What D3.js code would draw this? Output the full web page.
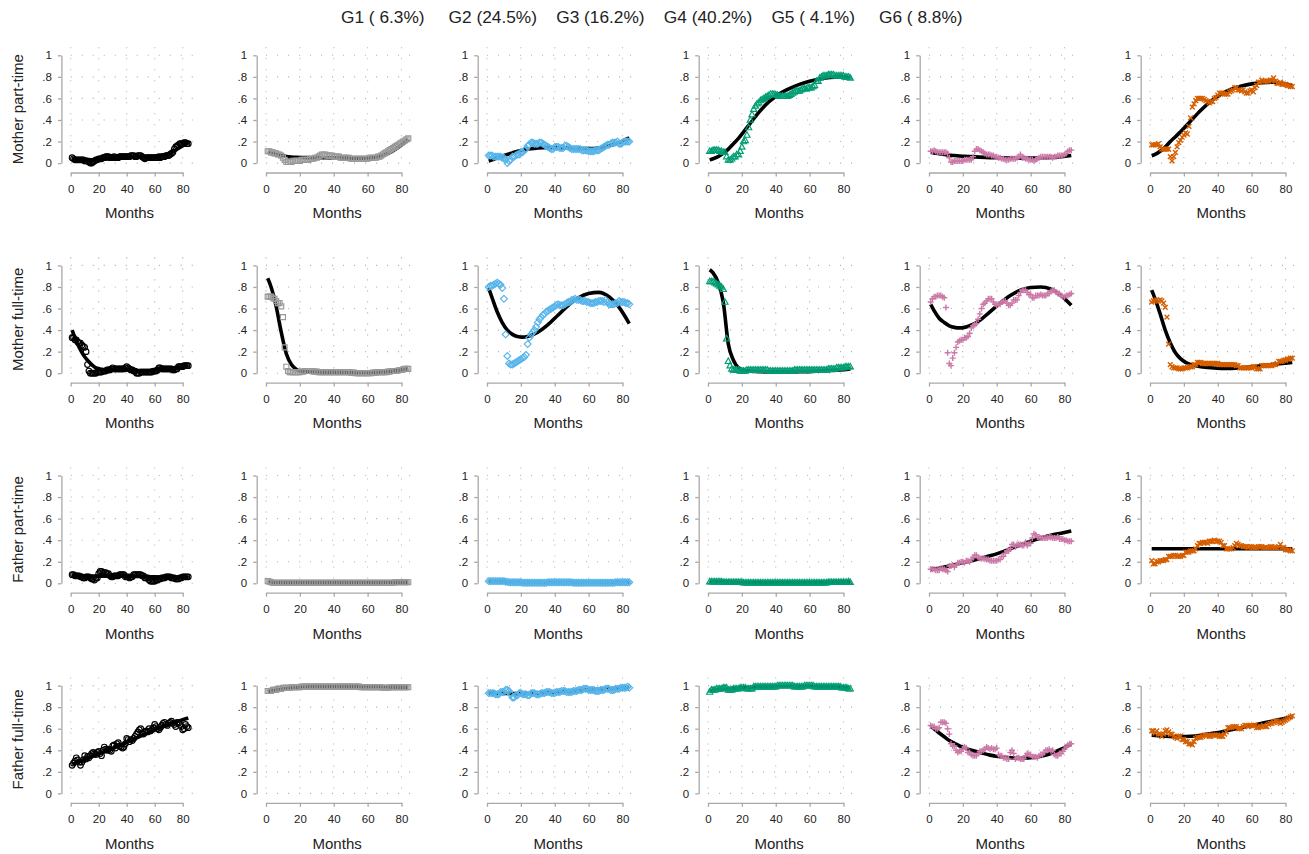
<!DOCTYPE html>
<html>
<head>
<meta charset="utf-8">
<script src="https://cdn.jsdelivr.net/npm/d3@7"></script>
<style>
  body { margin: 0; background: #fff; }
  svg { font-family: "Liberation Sans", Arial, sans-serif; }
  .axis path, .axis line { stroke: #a8a8a8; stroke-width: 1.3; }
  .axis text { fill: #222; font-size: 11.5px; }
  .grid line { stroke: #b4b4b4; stroke-width: 1.1; stroke-dasharray: 1.1 9.9; }
  .title text { white-space: pre; }
</style>
</head>
<body>
<svg id="chart" width="1309" height="854"></svg>
<script>
// groups and rows
const groupNames = ["G1", "G2", "G3", "G4", "G5", "G6"];
const groupShares = [6.3, 24.5, 16.2, 40.2, 4.1, 8.8];
const groupColors = ["#000000", "#999999", "#56B4E9", "#009E73", "#CC79A7", "#D55E00"];
const groupMarkers = ["circle", "square", "diamond", "triangle", "plus", "cross"];
const rowLabels = ["Mother part-time", "Mother full-time", "Father part-time", "Father full-time"];
const xTicks = [0, 20, 40, 60, 80];
const yTicks = [0, 0.2, 0.4, 0.6, 0.8, 1];
const months = d3.range(1, 85);
const fitMonths = [1, 3, 6, 9, 12, 15, 18, 21, 24, 30, 36, 42, 48, 54, 60, 66, 72, 78, 84];

// observed shares, months 1..84, one array per group
const obsMotherPart = [
  [.05,.04,.03,.03,.03,.03,.03,.03,.03,.02, .02,.02,.01,.00,.00,.01,.02,.03,.03,.04,
   .04,.04,.05,.05,.06,.06,.06,.05,.05,.05, .06,.05,.05,.05,.06,.06,.06,.06,.06,.06,
   .06,.06,.07,.07,.07,.06,.06,.07,.07,.07, .06,.05,.04,.05,.05,.05,.05,.05,.05,.05,
   .05,.05,.06,.05,.06,.06,.06,.07,.07,.07, .08,.09,.10,.13,.15,.16,.17,.18,.18,.18,
   .19,.19,.18,.18],
  [.11,.11,.10,.10,.09,.09,.08,.08,.07,.05, .03,.01,.01,.01,.01,.02,.02,.02,.02,.02,
   .03,.03,.03,.03,.03,.04,.04,.04,.05,.05, .06,.07,.08,.08,.08,.07,.07,.07,.07,.06,
   .06,.06,.06,.05,.05,.05,.05,.05,.05,.04, .04,.04,.04,.04,.04,.04,.04,.04,.04,.04,
   .05,.05,.05,.05,.05,.06,.06,.07,.08,.09, .10,.11,.12,.13,.14,.15,.16,.17,.18,.19,
   .20,.21,.22,.23],
  [.07,.07,.07,.06,.06,.06,.06,.06,.05,.05, .03,.00,.02,.03,.06,.06,.07,.08,.08,.10,
   .10,.12,.13,.16,.17,.19,.19,.18,.18,.18, .19,.19,.18,.17,.16,.15,.14,.13,.13,.15,
   .15,.15,.14,.14,.14,.16,.16,.15,.14,.13, .13,.13,.13,.13,.13,.12,.12,.12,.12,.11,
   .11,.11,.11,.12,.12,.12,.13,.14,.15,.16, .17,.17,.18,.19,.19,.19,.20,.18,.18,.19,
   .20,.20,.20,.20],
  [.11,.11,.12,.12,.12,.12,.11,.11,.10,.10, .06,.03,.03,.04,.06,.06,.08,.08,.11,.15,
   .20,.21,.26,.33,.40,.45,.50,.53,.55,.56, .58,.59,.60,.61,.62,.63,.64,.64,.64,.635,
   .63,.62,.62,.62,.62,.62,.62,.63,.64,.65, .66,.67,.67,.67,.68,.69,.69,.69,.70,.70,
   .70,.71,.72,.76,.76,.79,.80,.81,.81,.81, .82,.82,.82,.82,.81,.81,.81,.81,.81,.81,
   .80,.80,.80,.79],
  [.11,.11,.12,.11,.10,.10,.10,.10,.10,.10, .09,.05,.01,.01,.02,.02,.02,.02,.02,.02,
   .03,.03,.03,.03,.03,.06,.11,.13,.13,.12, .11,.10,.09,.08,.08,.08,.07,.07,.06,.06,
   .05,.05,.04,.04,.03,.03,.03,.04,.04,.04, .04,.05,.06,.08,.05,.05,.04,.04,.03,.03,
   .03,.02,.03,.04,.05,.06,.06,.06,.06,.06, .06,.06,.05,.06,.06,.07,.07,.07,.07,.08,
   .09,.11,.12,.12],
  [.17,.17,.17,.17,.18,.15,.13,.13,.13,.13, .13,.06,.02,.06,.10,.15,.19,.21,.24,.26,
   .28,.27,.34,.42,.52,.55,.58,.60,.60,.60, .60,.59,.58,.57,.56,.57,.57,.60,.61,.63,
   .65,.65,.65,.64,.64,.64,.66,.67,.68,.70, .70,.68,.68,.67,.68,.66,.65,.65,.67,.68,
   .66,.70,.72,.75,.75,.77,.76,.76,.76,.76, .77,.77,.79,.76,.74,.74,.75,.73,.73,.73,
   .72,.72,.71,.71]
];

const obsMotherFull = [
  [.33,.33,.31,.31,.29,.28,.28,.26,.25,.24, .20,.08,.02,.00,.00,.00,.00,.00,.01,.01,
   .01,.01,.02,.02,.02,.03,.03,.03,.04,.05, .04,.04,.04,.04,.04,.04,.04,.04,.05,.06,
   .05,.04,.03,.03,.02,.02,.00,.00,.00,.01, .01,.01,.01,.01,.01,.01,.01,.01,.02,.02,
   .02,.03,.05,.05,.04,.04,.04,.04,.04,.04, .04,.04,.03,.03,.04,.04,.06,.06,.06,.06,
   .07,.07,.07,.07],
  [.71,.71,.71,.70,.69,.67,.65,.65,.62,.52, .24,.06,.02,.01,.01,.01,.01,.01,.01,.01,
   .015,.015,.02,.02,.02,.02,.02,.015,.015,.015, .01,.01,.01,.01,.01,.01,.01,.01,.01,.01,
   .01,.01,.01,.01,.01,.01,.01,.01,.01,.005, .005,.005,.00,.00,.00,.00,.00,.00,.00,.00,
   .00,.00,.005,.005,.005,.01,.01,.01,.01,.01, .01,.015,.015,.02,.02,.02,.02,.025,.03,.03,
   .035,.04,.04,.04],
  [.80,.81,.81,.82,.83,.84,.83,.82,.79,.69, .36,.16,.09,.08,.08,.09,.10,.11,.12,.13,
   .14,.15,.17,.27,.33,.36,.38,.40,.43,.47, .50,.52,.54,.55,.57,.58,.59,.60,.61,.62,
   .63,.64,.63,.63,.63,.64,.65,.66,.66,.68, .68,.69,.68,.68,.68,.67,.67,.67,.66,.66,
   .65,.65,.65,.66,.66,.67,.67,.67,.66,.68, .66,.64,.64,.64,.64,.65,.65,.67,.66,.66,
   .66,.65,.65,.64],
  [.85,.85,.85,.84,.83,.82,.81,.80,.78,.66, .32,.11,.07,.04,.03,.03,.03,.03,.02,.02,
   .02,.02,.03,.03,.03,.03,.03,.03,.03,.03, .03,.03,.03,.03,.03,.02,.02,.02,.02,.02,
   .02,.02,.02,.02,.02,.02,.02,.02,.02,.02, .03,.03,.03,.03,.03,.03,.03,.03,.03,.03,
   .03,.03,.03,.03,.03,.03,.03,.03,.03,.03, .04,.04,.04,.04,.04,.05,.05,.05,.05,.05,
   .06,.06,.06,.06],
  [.66,.69,.71,.71,.72,.72,.72,.71,.70,.61, .19,.09,.07,.14,.19,.24,.29,.30,.31,.31,
   .33,.33,.34,.37,.42,.44,.45,.46,.50,.55, .60,.64,.65,.67,.69,.69,.69,.66,.64,.63,
   .64,.64,.66,.67,.67,.65,.63,.63,.65,.68, .68,.68,.72,.75,.77,.77,.77,.75,.73,.73,
   .70,.70,.72,.72,.72,.73,.72,.72,.72,.74, .74,.76,.77,.77,.75,.74,.74,.72,.71,.71,
   .72,.72,.73,.74],
  [.66,.67,.67,.68,.67,.68,.67,.65,.61,.52, .27,.08,.06,.05,.05,.05,.04,.04,.04,.05,
   .05,.05,.06,.06,.06,.08,.08,.10,.10,.10, .09,.09,.09,.09,.09,.09,.09,.09,.09,.09,
   .08,.08,.08,.08,.08,.08,.08,.08,.08,.08, .07,.07,.05,.05,.05,.05,.05,.05,.05,.05,
   .06,.06,.04,.04,.04,.07,.07,.07,.07,.07, .07,.07,.08,.08,.09,.11,.11,.11,.12,.12,
   .13,.13,.14,.14]
];

const obsFatherPart = [
  [.08,.08,.07,.07,.07,.07,.06,.06,.05,.05, .06,.06,.06,.05,.04,.04,.03,.05,.05,.09,
   .11,.11,.10,.10,.10,.09,.09,.07,.06,.06, .07,.07,.07,.07,.08,.08,.08,.08,.06,.06,
   .06,.05,.06,.06,.08,.08,.08,.08,.08,.08, .07,.07,.05,.05,.05,.03,.02,.02,.02,.02,
   .03,.03,.04,.04,.05,.05,.05,.06,.06,.06, .06,.05,.05,.05,.04,.04,.04,.05,.05,.06,
   .06,.06,.06,.06],
  [.02,.015,.01,.005,.005,.005,.005,.005,.005,.005, .005,.005,.005,.005,.005,.005,.005,.005,.005,.005,
   .005,.005,.005,.005,.005,.005,.005,.005,.005,.005, .005,.005,.005,.005,.005,.005,.005,.005,.005,.005,
   .005,.005,.005,.005,.005,.005,.005,.005,.005,.005, .005,.005,.005,.005,.005,.005,.005,.005,.005,.005,
   .005,.005,.005,.005,.005,.005,.005,.005,.005,.005, .005,.005,.005,.005,.005,.01,.01,.01,.01,.01,
   .01,.01,.01,.01],
  [.02,.02,.02,.02,.02,.02,.02,.02,.02,.02, .015,.015,.01,.01,.01,.01,.01,.01,.01,.01,
   .005,.005,.005,.005,.005,.005,.005,.005,.005,.005, .005,.005,.005,.005,.005,.01,.01,.01,.01,.01,
   .01,.01,.01,.01,.01,.01,.01,.01,.01,.01, .005,.005,.005,.005,.005,.005,.005,.005,.005,.005,
   .005,.005,.005,.005,.005,.005,.005,.005,.005,.005, .005,.005,.005,.005,.005,.01,.01,.01,.01,.01,
   .01,.01,.01,.01],
  [.015,.015,.015,.015,.015,.015,.015,.015,.01,.01, .01,.01,.01,.01,.01,.01,.01,.01,.01,.01,
   .005,.005,.005,.005,.005,.005,.005,.005,.005,.005, .005,.005,.005,.005,.005,.005,.005,.005,.005,.005,
   .005,.005,.005,.005,.005,.005,.005,.005,.005,.005, .005,.005,.005,.005,.005,.005,.005,.005,.005,.005,
   .005,.005,.005,.005,.005,.005,.005,.005,.005,.005, .01,.01,.01,.01,.01,.01,.01,.01,.01,.01,
   .01,.01,.015,.01],
  [.13,.13,.13,.12,.12,.12,.14,.13,.13,.12, .11,.16,.16,.17,.15,.17,.19,.19,.20,.20,
   .19,.21,.21,.20,.22,.24,.26,.26,.24,.23, .23,.23,.23,.22,.22,.21,.21,.21,.21,.21,
   .22,.22,.25,.25,.28,.30,.30,.32,.36,.36, .34,.36,.36,.36,.35,.35,.38,.35,.37,.37,
   .42,.46,.45,.43,.43,.42,.42,.42,.42,.42, .43,.43,.42,.42,.42,.43,.41,.41,.41,.40,
   .40,.39,.39,.39],
  [.21,.18,.18,.20,.20,.21,.21,.21,.22,.22, .25,.25,.25,.26,.26,.25,.25,.25,.26,.26,
   .29,.29,.29,.30,.30,.30,.32,.35,.37,.37, .38,.38,.38,.37,.39,.39,.39,.40,.39,.39,
   .39,.38,.35,.35,.32,.32,.32,.32,.33,.35, .37,.36,.35,.35,.34,.34,.34,.33,.34,.34,
   .33,.33,.33,.34,.34,.34,.33,.33,.33,.33, .34,.34,.33,.33,.33,.34,.36,.33,.33,.31,
   .31,.31,.30,.30]
];

const obsFatherFull = [
  [.26,.28,.30,.33,.31,.29,.26,.29,.31,.35, .32,.34,.33,.35,.37,.38,.37,.36,.38,.39,
   .37,.35,.40,.43,.41,.40,.41,.40,.39,.44, .45,.42,.46,.47,.44,.43,.42,.43,.46,.51,
   .50,.48,.50,.49,.51,.53,.55,.57,.59,.60, .56,.55,.57,.58,.57,.60,.58,.59,.61,.64,
   .62,.60,.59,.61,.63,.65,.66,.64,.63,.65, .66,.67,.65,.64,.62,.66,.65,.64,.62,.59,
   .60,.64,.62,.61],
  [.95,.95,.95,.96,.96,.96,.97,.97,.97,.98, .98,.98,.98,.98,.985,.985,.985,.985,.985,.985,
   .99,.99,.99,.99,.99,.99,.99,.99,.99,.99, .99,.99,.99,.99,.99,.99,.99,.99,.99,.99,
   .99,.99,.99,.99,.99,.99,.99,.99,.99,.99, .99,.99,.99,.99,.99,.985,.985,.985,.985,.985,
   .985,.985,.985,.985,.985,.985,.985,.985,.98,.98, .98,.98,.985,.985,.985,.985,.985,.985,.985,.985,
   .985,.985,.985,.985],
  [.93,.93,.93,.93,.92,.92,.92,.94,.94,.94, .96,.96,.95,.92,.89,.89,.91,.91,.93,.93,
   .92,.92,.92,.91,.91,.93,.93,.93,.92,.92, .92,.93,.93,.93,.94,.94,.94,.93,.93,.93,
   .94,.94,.94,.95,.95,.95,.94,.94,.94,.94, .95,.95,.95,.96,.96,.96,.97,.97,.97,.96,
   .96,.96,.96,.95,.95,.95,.96,.96,.96,.97, .97,.97,.96,.96,.96,.97,.97,.97,.98,.98,
   .98,.98,.99,.98],
  [.94,.96,.96,.96,.97,.97,.97,.97,.98,.98, .98,.96,.96,.96,.97,.97,.97,.97,.98,.98,
   .98,.98,.97,.97,.97,.97,.99,.99,.99,.99, .99,.99,.99,.99,.99,.99,.99,.99,.99,.99,
   1,1,1,1,1,1,1,1,1,1, .99,.99,.99,.99,.99,.99,1,1,1,1,
   1,1,.99,.99,.99,.99,.99,.99,.99,.99, .99,.99,.99,.99,.99,.99,.99,.99,.98,.98,
   .98,.98,.97,.97],
  [.63,.62,.62,.60,.60,.61,.66,.66,.66,.65, .60,.55,.46,.44,.44,.40,.38,.39,.39,.41,
   .43,.42,.38,.38,.36,.35,.35,.35,.37,.39, .39,.40,.41,.43,.42,.41,.42,.41,.41,.42,
   .36,.35,.35,.33,.33,.32,.32,.38,.40,.37, .32,.33,.33,.32,.32,.32,.35,.37,.36,.36,
   .34,.34,.34,.33,.35,.36,.36,.38,.40,.40, .41,.39,.40,.36,.35,.35,.37,.37,.39,.41,
   .43,.45,.46,.46],
  [.58,.58,.56,.58,.55,.55,.53,.55,.58,.59, .57,.55,.55,.53,.52,.51,.53,.53,.50,.50,
   .48,.48,.46,.46,.45,.48,.51,.52,.52,.52, .53,.54,.54,.54,.53,.53,.54,.54,.54,.54,
   .53,.53,.53,.55,.57,.61,.61,.61,.62,.62, .62,.60,.60,.60,.62,.63,.63,.62,.63,.63,
   .63,.63,.61,.61,.62,.62,.63,.62,.62,.64, .65,.65,.66,.67,.67,.66,.65,.66,.67,.68,
   .69,.70,.71,.72]
];

// fitted trajectories, read at fitMonths
const fitMotherPart = [
  [.045,.04,.035,.032,.03,.03,.031,.033,.036,.042,.048,.052,.055,.056,.06,.072,.10,.145,.19],
  [.10,.09,.08,.07,.062,.057,.054,.052,.051,.05,.05,.048,.046,.045,.048,.06,.09,.145,.22],
  [.02,.03,.05,.065,.08,.095,.11,.12,.13,.14,.145,.143,.14,.135,.135,.14,.16,.19,.235],
  [.03,.04,.06,.09,.13,.18,.23,.29,.35,.47,.57,.64,.69,.73,.76,.78,.795,.80,.79],
  [.10,.095,.088,.08,.075,.07,.066,.063,.06,.055,.051,.049,.047,.046,.046,.049,.053,.06,.07],
  [.068,.08,.11,.15,.20,.245,.29,.34,.39,.49,.575,.64,.685,.715,.735,.745,.75,.74,.72]
];
const fitMotherFull = [
  [.40,.33,.24,.17,.12,.08,.05,.04,.03,.03,.03,.03,.025,.025,.03,.035,.045,.055,.07],
  [.88,.80,.62,.38,.18,.08,.035,.02,.015,.01,.01,.01,.005,.005,.005,.01,.015,.025,.04],
  [.79,.70,.57,.47,.40,.36,.34,.335,.34,.38,.45,.54,.63,.70,.74,.75,.71,.61,.46],
  [.96,.93,.84,.66,.27,.12,.05,.03,.02,.015,.01,.01,.01,.015,.015,.02,.025,.03,.04],
  [.64,.58,.51,.47,.44,.425,.42,.425,.44,.49,.57,.65,.72,.77,.795,.80,.78,.72,.63],
  [.77,.69,.55,.40,.28,.19,.135,.10,.08,.06,.05,.045,.045,.05,.06,.07,.08,.09,.10]
];
const fitFatherPart = [
  [.075,.074,.072,.07,.069,.068,.067,.067,.067,.066,.066,.065,.064,.062,.06,.058,.056,.055,.055],
  [.012,.011,.009,.007,.006,.005,.005,.005,.005,.005,.005,.005,.005,.005,.005,.006,.007,.009,.011],
  [.018,.017,.016,.014,.012,.011,.01,.009,.008,.007,.007,.007,.007,.007,.007,.007,.008,.009,.01],
  [.015,.014,.013,.012,.011,.01,.01,.009,.009,.008,.008,.008,.008,.008,.008,.009,.01,.011,.012],
  [.13,.135,.14,.15,.16,.17,.185,.195,.205,.23,.255,.285,.32,.355,.39,.42,.445,.465,.485],
  [.32,.32,.32,.32,.32,.32,.32,.32,.32,.32,.32,.32,.32,.32,.32,.32,.32,.32,.32]
];
const fitFatherFull = [
  [.27,.28,.295,.31,.325,.34,.355,.37,.385,.415,.45,.485,.52,.555,.59,.62,.65,.675,.70],
  [.945,.95,.958,.966,.973,.978,.982,.985,.987,.99,.99,.99,.99,.99,.99,.99,.988,.986,.985],
  [.93,.93,.93,.928,.927,.926,.926,.926,.927,.93,.935,.94,.947,.953,.96,.965,.97,.976,.983],
  [.95,.955,.96,.965,.97,.974,.977,.98,.982,.986,.989,.991,.992,.992,.991,.99,.988,.985,.98],
  [.62,.60,.56,.525,.49,.465,.44,.42,.405,.38,.355,.34,.33,.325,.33,.345,.37,.41,.46],
  [.54,.537,.533,.53,.528,.527,.527,.528,.53,.54,.555,.57,.59,.61,.63,.65,.67,.69,.71]
];

const rowsObs = [obsMotherPart, obsMotherFull, obsFatherPart, obsFatherFull];
const rowsFit = [fitMotherPart, fitMotherFull, fitFatherPart, fitFatherFull];

// marker shapes (hollow, Stata-like)
const markerTypes = {
  circle: { draw(p) { p.moveTo(2.8, 0); p.arc(0, 0, 2.8, 0, 2 * Math.PI); } },
  square: { draw(p) { p.rect(-2.5, -2.5, 5, 5); } },
  diamond: { draw(p) { p.moveTo(0, -3.4); p.lineTo(3.4, 0); p.lineTo(0, 3.4); p.lineTo(-3.4, 0); p.closePath(); } },
  triangle: { draw(p) { p.moveTo(0, -3.3); p.lineTo(3.1, 2.2); p.lineTo(-3.1, 2.2); p.closePath(); } },
  plus: { draw(p) { p.moveTo(-3, 0); p.lineTo(3, 0); p.moveTo(0, -3); p.lineTo(0, 3); } },
  cross: { draw(p) { p.moveTo(-2.4, -2.4); p.lineTo(2.4, 2.4); p.moveTo(-2.4, 2.4); p.lineTo(2.4, -2.4); } }
};

const svg = d3.select("#chart");
const tickFmt = d => d === 0 ? "0" : d === 1 ? "1" : d3.format(".1f")(d).replace(/^0/, "");

// title
const titleX = d3.scalePoint().domain(groupNames).range([341, 879]);
svg.append("g").attr("class", "title")
  .selectAll("text")
  .data(groupNames)
  .join("text")
  .attr("x", d => titleX(d))
  .attr("y", 23)
  .attr("font-size", 17.3)
  .attr("fill", "#222")
  .text((d, i) => `${d} (${d3.format("4.1f")(groupShares[i])}%)`);

rowLabels.forEach((label, r) => {
  const yTop = 55.3 + r * 210.1;
  const yBottom = yTop + 107.8;

  svg.append("text")
    .attr("transform", `translate(22.6,${(yTop + yBottom) / 2}) rotate(-90)`)
    .attr("text-anchor", "middle")
    .attr("font-size", 15)
    .attr("fill", "#222")
    .text(label);

  groupNames.forEach((g, c) => {
    const x0 = c === 0 ? 70.7 : 266 + (c - 1) * 221;
    const w = c === 0 ? 112 : 135.5;
    const x = d3.scaleLinear().domain([0, 80]).range([x0, x0 + w]);
    const y = d3.scaleLinear().domain([0, 1]).range([yBottom, yTop]);
    const panel = svg.append("g");

    // dotted grid
    const grid = panel.append("g").attr("class", "grid");
    grid.selectAll(".gy").data(yTicks).join("line").attr("class", "gy")
      .attr("x1", x(0)).attr("x2", x(88))
      .attr("y1", d => y(d)).attr("y2", d => y(d));
    grid.selectAll(".gx").data(xTicks).join("line").attr("class", "gx")
      .attr("x1", d => x(d)).attr("x2", d => x(d))
      .attr("y1", y(1.075)).attr("y2", y(0));

    // axes, offset from the plot region
    panel.append("g").attr("class", "axis")
      .attr("transform", `translate(${x0 - 9.3},0)`)
      .call(d3.axisLeft(y).tickValues(yTicks).tickFormat(tickFmt)
        .tickSize(3.5).tickSizeOuter(0).tickPadding(6));
    panel.append("g").attr("class", "axis")
      .attr("transform", `translate(0,${yBottom + 9.4})`)
      .call(d3.axisBottom(x).tickValues(xTicks).tickFormat(d3.format("d"))
        .tickSize(4).tickSizeOuter(0).tickPadding(8));
    panel.selectAll(".axis text").attr("font-family", null).attr("font-size", null);

    panel.append("text")
      .attr("x", x(42))
      .attr("y", yBottom + 9.4 + 45.8)
      .attr("text-anchor", "middle")
      .attr("font-size", 15)
      .attr("fill", "#222")
      .text("Months");

    // fitted trajectory
    const line = d3.line()
      .x(d => x(d[0]))
      .y(d => y(d[1]))
      .curve(d3.curveMonotoneX);
    panel.append("path")
      .datum(d3.zip(fitMonths, rowsFit[r][c]))
      .attr("d", line)
      .attr("fill", "none")
      .attr("stroke", "#000")
      .attr("stroke-width", 3.6);

    // observed shares
    const sym = d3.symbol().type(markerTypes[groupMarkers[c]]);
    const lineMarker = groupMarkers[c] === "plus" || groupMarkers[c] === "cross";
    panel.append("g")
      .selectAll("path")
      .data(d3.zip(months, rowsObs[r][c]))
      .join("path")
      .attr("transform", d => `translate(${x(d[0])},${y(d[1])})`)
      .attr("d", sym)
      .attr("fill", "none")
      .attr("stroke", groupColors[c])
      .attr("stroke-width", lineMarker ? 1.4 : 1.15);
  });
});
</script>
</body>
</html>
